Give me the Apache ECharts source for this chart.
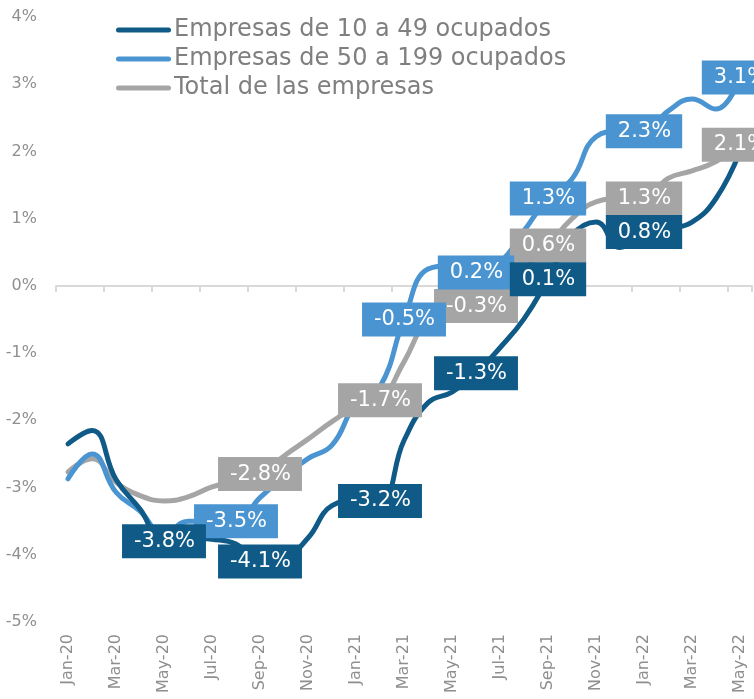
<!DOCTYPE html>
<html>
<head>
<meta charset="utf-8">
<script src="https://cdn.jsdelivr.net/npm/echarts@6/dist/echarts.min.js"></script>
<style>
  html, body { margin: 0; padding: 0; background: #fff; }
  #main { width: 754px; height: 699px; }
</style>
</head>
<body>
<div id="main"></div>
<script>
const months = ['Jan-20', 'Feb-20', 'Mar-20', 'Apr-20', 'May-20', 'Jun-20', 'Jul-20', 'Aug-20', 'Sep-20', 'Oct-20', 'Nov-20', 'Dec-20',
  'Jan-21', 'Feb-21', 'Mar-21', 'Apr-21', 'May-21', 'Jun-21', 'Jul-21', 'Aug-21', 'Sep-21', 'Oct-21', 'Nov-21', 'Dec-21',
  'Jan-22', 'Feb-22', 'Mar-22', 'Apr-22', 'May-22']

// variacion interanual (%)
const small = [-2.35, -2.15, -2.88, -3.32, -3.8, -3.75, -3.77, -3.84, -4.1, -4.05, -3.75, -3.27,
  -3.2, -3.2, -2.3, -1.74, -1.58, -1.3, -0.92, -0.49, 0.1, 0.75, 0.95, 0.57,
  0.8, 0.85, 0.95, 1.3, 2.0]
const medium = [-2.87, -2.5, -3.07, -3.35, -3.7, -3.5, -3.5, -3.5, -3.15, -2.84, -2.57, -2.37,
  -1.75, -1.5, -0.5, 0.25, 0.3, 0.2, 0.35, 0.82, 1.3, 1.59, 2.22, 2.3,
  2.3, 2.6, 2.78, 2.63, 3.1]
const total = [-2.77, -2.57, -2.92, -3.12, -3.2, -3.14, -2.99, -2.9, -2.8, -2.53, -2.28, -2.02,
  -1.8, -1.7, -1.13, -0.5, -0.35, -0.3, -0.1, 0.25, 0.6, 1.0, 1.25, 1.3,
  1.3, 1.6, 1.71, 1.85, 2.1]

// meses con etiqueta
const smallLabels = [4, 8, 13, 17, 20, 24]
const mediumLabels = [7, 14, 17, 20, 24, 28]
const totalLabels = [8, 13, 17, 20, 24, 28]

const names = ['Empresas de 10 a 49 ocupados', 'Empresas de 50 a 199 ocupados', 'Total de las empresas']
const colors = ['#0f5a86', '#4a95d1', '#a5a5a5']
const axisGray = '#8f8f8f'
const font = 'DejaVu Sans'
// icono de leyenda: linea gruesa con extremos redondeados
const legendIcon = 'path://M2.5,0 L52.5,0 A2.5,2.5 0 0 1 52.5,5 L2.5,5 A2.5,2.5 0 0 1 2.5,0 Z'

const chart = echarts.init(document.getElementById('main'))

function lineSeries(name, data, color) {
  return {
    name: name,
    type: 'line',
    data: data,
    smooth: 0.45,
    showSymbol: false,
    symbol: 'none',
    z: 2,
    lineStyle: { color: color, width: 5, cap: 'round', join: 'round' },
    itemStyle: { color: color }
  }
}

function labelSeries(name, data, idx, color) {
  return {
    name: name + ' etiquetas',
    type: 'scatter',
    z: 5,
    silent: true,
    symbolSize: 1,
    itemStyle: { color: 'transparent', opacity: 1 },
    data: idx.map(i => [i, data[i]]),
    label: {
      show: true,
      position: 'inside',
      formatter: p => p.value[1].toFixed(1) + '%',
      color: '#fff',
      opacity: 1,
      fontFamily: font,
      fontSize: 21,
      backgroundColor: color,
      padding: [7, 11, 6, 12]
    }
  }
}

chart.setOption({
  animation: false,
  textStyle: { fontFamily: font },
  grid: { left: 56, right: 2, top: 17, bottom: 77, containLabel: false },
  legend: {
    data: names.map(n => ({ name: n, icon: legendIcon })),
    orient: 'vertical',
    left: 111,
    top: 13,
    itemWidth: 55,
    itemHeight: 5,
    itemGap: 5,
    symbolKeepAspect: false,
    textStyle: { color: '#7f7f7f', fontSize: 24, lineHeight: 24, fontFamily: font, padding: [0, 0, 0, -2] }
  },
  xAxis: [
    {
      type: 'category',
      data: months,
      position: 'bottom',
      boundaryGap: true,
      axisLine: { show: false, onZero: false },
      axisTick: { show: false },
      axisLabel: { interval: 1, rotate: 90, color: axisGray, fontSize: 16, margin: 12, fontFamily: font }
    },
    {
      type: 'category',
      data: months,
      position: 'bottom',
      boundaryGap: true,
      axisLine: { show: true, onZero: true, lineStyle: { color: '#d9d9d9', width: 2 } },
      axisTick: { show: true, interval: 1, length: 6, lineStyle: { color: '#d9d9d9', width: 2 } },
      axisLabel: { show: false }
    }
  ],
  yAxis: {
    type: 'value',
    min: -5,
    max: 4,
    interval: 1,
    splitLine: { show: false },
    axisLine: { show: false },
    axisTick: { show: false },
    axisLabel: { formatter: '{value}%', color: axisGray, fontSize: 16, margin: 19, fontFamily: font }
  },
  series: [
    lineSeries(names[2], total, colors[2]),
    lineSeries(names[1], medium, colors[1]),
    lineSeries(names[0], small, colors[0]),
    labelSeries(names[2], total, totalLabels, colors[2]),
    labelSeries(names[1], medium, mediumLabels, colors[1]),
    labelSeries(names[0], small, smallLabels, colors[0])
  ]
})
</script>
</body>
</html>
